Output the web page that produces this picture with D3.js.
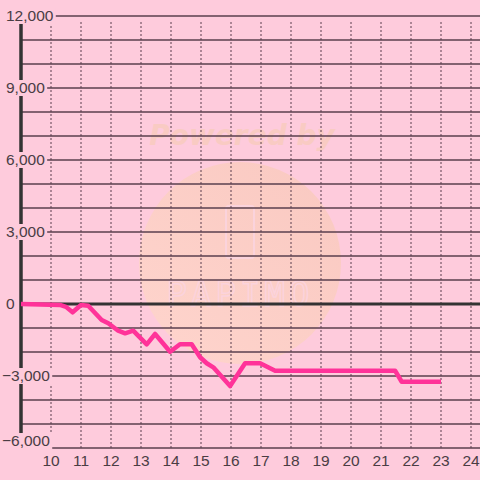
<!DOCTYPE html>
<html>
<head>
<meta charset="utf-8">
<script src="https://cdn.jsdelivr.net/npm/d3@7"></script>
<style>
  html, body { margin: 0; padding: 0; background: #fecbdc; }
  svg { display: block; }
</style>
</head>
<body>
<div id="chart"></div>
<script>
// hour of day -> running balance
const hours = [9.0, 10.3, 10.5, 10.72, 11.0, 11.24, 11.69, 11.91, 12.24, 12.47, 12.74, 13.19, 13.47,
    13.97, 14.3, 14.69, 14.97, 15.19, 15.41, 15.97, 16.47, 16.97, 17.47, 21.47, 21.69, 23.0];
const balance = [0, -40, -120, -346, -42, -70, -667, -805, -1112, -1221, -1112, -1680, -1250,
    -1990, -1680, -1680, -2220, -2470, -2640, -3420, -2470, -2470, -2780, -2780, -3240, -3240];
const xTicks = [10, 11, 12, 13, 14, 15, 16, 17, 18, 19, 20, 21, 22, 23, 24];
const yLabels = [12000, 9000, 6000, 3000, 0, -3000, -6000];
const yGrid = d3.range(-6000, 12001, 1000);

const W = 480, H = 480;
const bg = '#fecbdc';
const gridColor = '#5a3f4e';
const textColor = '#4a3d44';

const x = d3.scaleLinear().domain([9, 24.3]).range([21, 480]);
const y = d3.scaleLinear().domain([-6000, 12000]).range([448, 16]);

const svg = d3.select('#chart').append('svg')
    .attr('width', W).attr('height', H);

svg.append('rect').attr('width', W).attr('height', H).attr('fill', bg);

// watermark
const defs = svg.append('defs');
const grad = defs.append('linearGradient').attr('id', 'wm')
    .attr('x1', '0%').attr('y1', '100%').attr('x2', '100%').attr('y2', '0%');
grad.append('stop').attr('offset', '0%').attr('stop-color', '#ffd8c8');
grad.append('stop').attr('offset', '100%').attr('stop-color', '#f8c8b8');

const wm = svg.append('g');
wm.append('circle').attr('cx', 240).attr('cy', 263).attr('r', 101)
    .attr('fill', 'url(#wm)').attr('opacity', 0.75);
wm.append('text')
    .attr('x', 242).attr('y', 145)
    .attr('text-anchor', 'middle')
    .attr('font-family', 'DejaVu Sans, sans-serif')
    .attr('font-size', 28).attr('font-weight', 'bold').attr('font-style', 'italic')
    .attr('fill', '#f9cbc3')
    .text('Powered by');
wm.append('rect').attr('x', 226).attr('y', 206).attr('width', 28).attr('height', 52)
    .attr('rx', 3).attr('fill', 'none').attr('stroke', '#fbd3dc').attr('stroke-width', 2);
wm.append('text')
    .attr('x', 240).attr('y', 306)
    .attr('text-anchor', 'middle')
    .attr('font-family', 'DejaVu Sans Mono, monospace')
    .attr('font-size', 34).attr('letter-spacing', 4)
    .attr('fill', 'none').attr('stroke', '#fbd3dc').attr('stroke-width', 1.5)
    .text('PAPIMO');

// horizontal grid
svg.append('g').selectAll('line').data(yGrid).join('line')
    .attr('x1', x(9)).attr('x2', W)
    .attr('y1', d => y(d)).attr('y2', d => y(d))
    .attr('stroke', gridColor).attr('stroke-width', 1.5);

// vertical dashed grid
svg.append('g').selectAll('line').data(xTicks).join('line')
    .attr('x1', d => x(d)).attr('x2', d => x(d))
    .attr('y1', 22).attr('y2', y(-6000))
    .attr('stroke', gridColor).attr('stroke-width', 1)
    .attr('stroke-dasharray', '2,2');

// axis lines
svg.append('line')
    .attr('x1', x(9)).attr('x2', x(9)).attr('y1', 22).attr('y2', y(-6000))
    .attr('stroke', '#333').attr('stroke-width', 3.5);
svg.append('line')
    .attr('x1', x(9)).attr('x2', W).attr('y1', y(0)).attr('y2', y(0))
    .attr('stroke', '#333').attr('stroke-width', 3);

// series
const line = d3.line().x((d, i) => x(hours[i])).y(d => y(d));
svg.append('path').datum(balance)
    .attr('d', line)
    .attr('fill', 'none')
    .attr('stroke', '#ff3399')
    .attr('stroke-width', 4.5)
    .attr('stroke-linejoin', 'round');

// y labels with background (bottom one kept inside the plot)
const fmt = d3.format(',');
const yl = svg.append('g').selectAll('g').data(yLabels).join('g')
    .attr('transform', d => `translate(${d < 0 ? 2 : 6}, ${Math.min(y(d), 441)})`);
yl.each(function (d) {
    const g = d3.select(this);
    const t = g.append('text')
        .attr('x', 0).attr('dy', '0.35em')
        .attr('font-family', 'Liberation Sans, Arial, sans-serif')
        .attr('font-size', 15.5).attr('fill', textColor)
        .text(fmt(d));
    const bb = t.node().getBBox();
    g.insert('rect', 'text')
        .attr('x', bb.x - 1).attr('y', -8)
        .attr('width', bb.width + 3).attr('height', 16)
        .attr('fill', bg);
});

// x labels
svg.append('g').selectAll('text').data(xTicks).join('text')
    .attr('x', d => x(d)).attr('y', 461).attr('dy', '0.35em')
    .attr('text-anchor', 'middle')
    .attr('font-family', 'Liberation Sans, Arial, sans-serif')
    .attr('font-size', 15.5).attr('fill', textColor)
    .text(d => d);
</script>
</body>
</html>
